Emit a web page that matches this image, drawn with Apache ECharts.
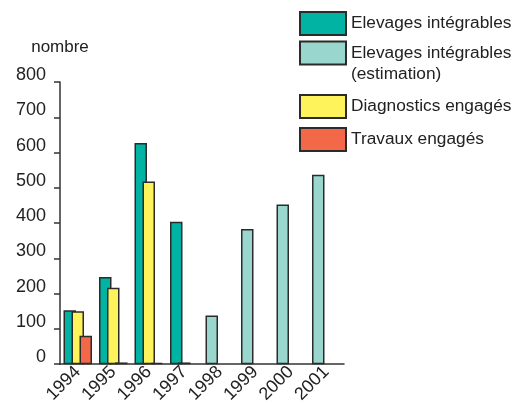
<!DOCTYPE html>
<html>
<head>
<meta charset="utf-8">
<script src="https://cdn.jsdelivr.net/npm/echarts@6/dist/echarts.min.js"></script>
<style>html,body{margin:0;padding:0;background:#fff}#c{width:522px;height:406px}</style>
</head>
<body>
<div id="c"></div>
<script>
var years = ['1994','1995','1996','1997','1998','1999','2000','2001'];
var elevages = [153, 247, 627, 404, null, null, null, null];
var elevagesEstim = [null, null, null, null, 138, 383, 453, 537];
var diagnostics = [150, 217, 518, 5, null, null, null, null];
var travaux = [81, 5, 4, null, null, null, null, null];
var yTicks = [0, 100, 200, 300, 400, 500, 600, 700, 800];

var names = ['Elevages intégrables', 'Elevages intégrables (estimation)', 'Diagnostics engagés', 'Travaux engagés'];
var colors = ['#00b3a3', '#99d6ce', '#fff35c', '#f26849'];
var FONT = 'Liberation Sans';
var border = {borderColor: '#2b2b2b', borderWidth: 1.5};

var chart = echarts.init(document.getElementById('c'));
function legendBase(extra) {
  return Object.assign({
    left: 299, orient: 'vertical', itemWidth: 46, itemHeight: 23, itemGap: 8, padding: 0,
    icon: 'rect', selectedMode: false,
    textStyle: {fontFamily: FONT, fontSize: 17.3, color: '#222', lineHeight: 21, padding: [0, 0, 0, 0]}
  }, extra);
}
chart.setOption({
  animation: false,
  textStyle: {fontFamily: FONT},
  grid: {left: 60, right: 178, top: 82, bottom: 40, containLabel: false},
  legend: [
    legendBase({top: 11, data: [names[0]]}),
    legendBase({top: 21.5, data: [names[1]],
      formatter: function () { return '\nElevages intégrables\n(estimation)'; }}),
    legendBase({top: 94, data: [names[2], names[3]]})
  ],
  xAxis: {
    type: 'category', data: years,
    axisLine: {lineStyle: {color: '#333', width: 1.5}},
    axisTick: {inside: true, length: 6, interval: 0, lineStyle: {color: '#333', width: 1.5}},
    axisLabel: {rotate: 45, interval: 0, margin: 5, fontSize: 18, color: '#222', fontFamily: FONT}
  },
  yAxis: {
    type: 'value', min: yTicks[0], max: yTicks[yTicks.length - 1], interval: 100,
    name: 'nombre', nameLocation: 'end', nameGap: 26,
    nameTextStyle: {fontSize: 17, color: '#222', fontFamily: FONT, align: 'center'},
    splitLine: {show: false},
    axisLine: {show: true, lineStyle: {color: '#333', width: 1.5}},
    axisTick: {show: true, length: 6, lineStyle: {color: '#333', width: 1.5}},
    axisLabel: {margin: 14, fontSize: 18, color: '#222', fontFamily: FONT, verticalAlign: 'bottom', lineHeight: 14}
  },
  series: [
    {name: names[0], type: 'bar', stack: 'e', data: elevages, barWidth: 12.5, barGap: '-36%',
      itemStyle: Object.assign({color: colors[0]}, border)},
    {name: names[1], type: 'bar', stack: 'e', data: elevagesEstim, barWidth: 12.5, barGap: '-36%',
      itemStyle: Object.assign({color: colors[1]}, border)},
    {name: names[2], type: 'bar', data: diagnostics, barWidth: 12.5, barGap: '-36%',
      itemStyle: Object.assign({color: colors[2]}, border)},
    {name: names[3], type: 'bar', data: travaux, barWidth: 12.5, barGap: '-36%',
      itemStyle: Object.assign({color: colors[3]}, border)}
  ]
});
</script>
</body>
</html>
